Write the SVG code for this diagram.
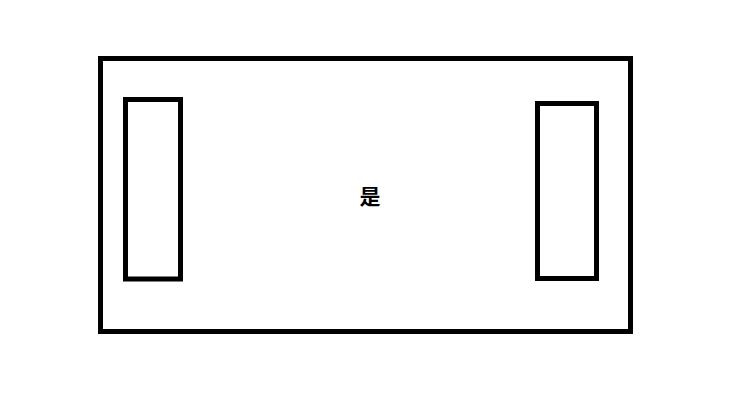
<svg xmlns="http://www.w3.org/2000/svg" width="742" height="405" viewBox="0 0 742 405">
<style>
.box{fill:none;stroke:#000;stroke-width:5}
.lbl{font-family:"Noto Sans CJK SC","Liberation Sans",sans-serif;font-size:21px;font-weight:bold;fill:#000;text-anchor:middle}
</style>
<rect width="742" height="405" fill="#fff"/>
<g id="outer"><rect class="box" x="100.5" y="58.5" width="530" height="273"/></g>
<g id="left"><rect class="box" x="125.5" y="99.5" width="55" height="179.5"/></g>
<g id="right"><rect class="box" x="537.5" y="103.5" width="59" height="175"/></g>
<g id="label"><text class="lbl" x="370" y="204">是</text></g>
<g id="connectors"></g>
</svg>
